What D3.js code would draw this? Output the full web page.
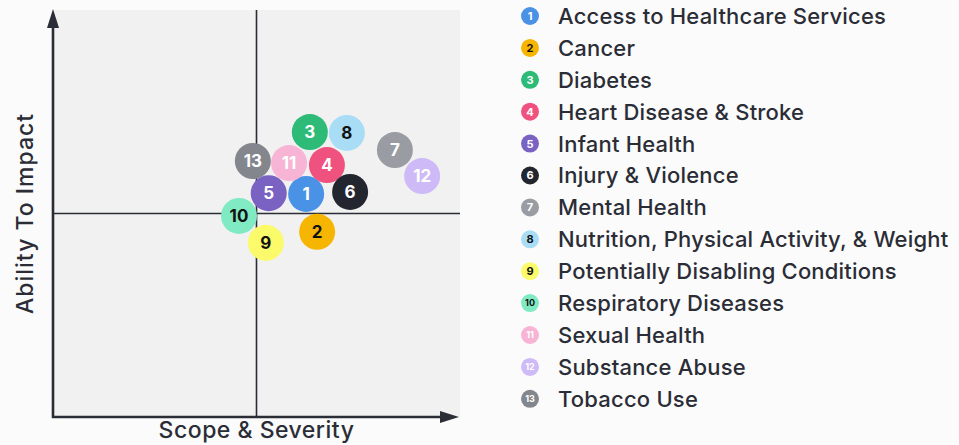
<!DOCTYPE html>
<html lang="en">
<head>
    <meta charset="UTF-8">
    <title>Priority matrix</title>
    <script src="https://d3js.org/d3.v7.min.js"></script>
    <style>
        body { margin: 0; background: #fbfbfb; }
        text { font-family: "Inter", "Lato", sans-serif; }
    </style>
</head>
<body>
    <script>
        // data (scale 0..10 on both axes, midpoint 5)
        var ids = [1, 2, 3, 4, 5, 6, 7, 8, 9, 10, 11, 12, 13];
        var names = ["Access to Healthcare Services", "Cancer", "Diabetes", "Heart Disease & Stroke",
            "Infant Health", "Injury & Violence", "Mental Health", "Nutrition, Physical Activity, & Weight",
            "Potentially Disabling Conditions", "Respiratory Diseases", "Sexual Health", "Substance Abuse", "Tobacco Use"];
        var scope = [6.22, 6.49, 6.31, 6.73, 5.30, 7.30, 8.40, 7.22, 5.23, 4.57, 5.80, 9.07, 4.91];
        var impact = [5.48, 4.55, 7.00, 6.19, 5.50, 5.53, 6.56, 6.98, 4.28, 4.94, 6.24, 5.92, 6.29];
        var colors = ["#4a92e6", "#f6b500", "#2dbb77", "#f0527f", "#7a62c2", "#23262f", "#9a9ca4",
            "#a9ddf6", "#fbfa6a", "#80ebc3", "#f8b4d5", "#cdbaf6", "#84868d"];
        var darkText = [2, 8, 9, 10];

        var W = 959, H = 445;
        var svg = d3.select("body").append("svg")
            .attr("width", W)
            .attr("height", H);

        var x = d3.scaleLinear().domain([0, 10]).range([53, 460]);
        var y = d3.scaleLinear().domain([0, 10]).range([417, 10]);
        var ink = "#2b2d36";

        svg.append("rect")
            .attr("x", x(0)).attr("y", y(10))
            .attr("width", x(10) - x(0)).attr("height", y(0) - y(10))
            .style("fill", "#f1f1f1");

        // quadrant lines
        svg.append("line")
            .attr("x1", x(5)).attr("x2", x(5)).attr("y1", y(10)).attr("y2", y(0))
            .style("stroke", ink).style("stroke-width", 1.6);
        svg.append("line")
            .attr("x1", x(0)).attr("x2", x(10)).attr("y1", y(5)).attr("y2", y(5))
            .style("stroke", ink).style("stroke-width", 1.6);

        // axes with arrows
        svg.append("line")
            .attr("x1", x(0)).attr("x2", x(0)).attr("y1", y(0) + 1).attr("y2", y(10) + 12)
            .style("stroke", ink).style("stroke-width", 2.6);
        svg.append("line")
            .attr("x1", x(0) - 1).attr("x2", x(10) - 12).attr("y1", y(0)).attr("y2", y(0))
            .style("stroke", ink).style("stroke-width", 2.6);
        svg.append("path")
            .attr("d", "M" + x(0) + "," + (y(10) - 1) + " l-6,19 l12,0 z")
            .style("fill", ink);
        svg.append("path")
            .attr("d", "M" + (x(10) - 1) + "," + y(0) + " l-19,-6 l0,12 z")
            .style("fill", ink);

        svg.append("text")
            .attr("x", x(5)).attr("y", 438)
            .attr("text-anchor", "middle")
            .style("font-size", "23px").style("font-weight", 500).style("letter-spacing", "0.5px")
            .style("fill", ink)
            .text("Scope & Severity");
        svg.append("text")
            .attr("transform", "translate(33," + y(5) + ") rotate(-90)")
            .attr("text-anchor", "middle")
            .style("font-size", "23px").style("font-weight", 500).style("letter-spacing", "1px")
            .style("fill", ink)
            .text("Ability To Impact");

        var pts = ids.map(function(id, i) {
            return {id: id, name: names[i], sx: scope[i], iy: impact[i], color: colors[i]};
        });

        var g = svg.selectAll("g.bubble")
            .data(pts)
            .enter().append("g")
            .attr("class", "bubble")
            .attr("transform", function(d) { return "translate(" + x(d.sx) + "," + y(d.iy) + ")"; });
        g.append("circle")
            .attr("r", 18)
            .style("fill", function(d) { return d.color; });
        g.append("text")
            .attr("text-anchor", "middle")
            .attr("dy", "0.36em")
            .style("font-size", "17px").style("font-weight", "bold")
            .style("fill", function(d) { return darkText.indexOf(d.id) >= 0 ? "#111" : "#fff"; })
            .text(function(d) { return d.id; });

        // legend
        var leg = svg.selectAll("g.leg")
            .data(pts)
            .enter().append("g")
            .attr("class", "leg")
            .attr("transform", function(d, i) { return "translate(530," + (16 + i * 31.9) + ")"; });
        leg.append("circle")
            .attr("r", 9)
            .style("fill", function(d) { return d.color; });
        leg.append("text")
            .attr("text-anchor", "middle")
            .attr("dy", "0.36em")
            .style("font-size", function(d) { return d.id > 9 ? "9px" : "11px"; })
            .style("font-weight", "bold")
            .style("fill", function(d) { return darkText.indexOf(d.id) >= 0 ? "#111" : "#fff"; })
            .text(function(d) { return d.id; });
        leg.append("text")
            .attr("x", 28)
            .attr("dy", "0.36em")
            .style("font-size", "22px").style("font-weight", 500).style("letter-spacing", "0.2px")
            .style("fill", ink)
            .text(function(d) { return d.name; });
    </script>
</body>
</html>
